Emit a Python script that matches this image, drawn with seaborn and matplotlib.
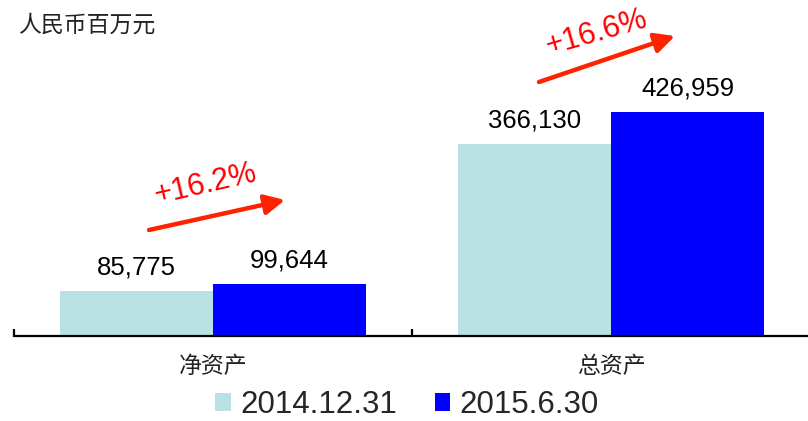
import matplotlib
matplotlib.use("Agg")
import matplotlib.pyplot as plt
from matplotlib.patches import Patch
import seaborn as sns
import pandas as pd

# data
categories = ["净资产", "总资产"]
periods = ["2014.12.31", "2015.6.30"]
values_2014 = [85775, 366130]
values_2015 = [99644, 426959]
growth_labels = ["+16.2%", "+16.6%"]
unit_label = "人民币百万元"

colors = ["#B9E0E3", "#0000FF"]

sns.set_theme(style="white")
plt.rcParams["font.family"] = ["Liberation Sans", "Noto Sans CJK SC", "DejaVu Sans"]
cjk = ["Noto Sans CJK SC", "DejaVu Sans"]

df = pd.DataFrame({
    "category": categories * 2,
    "period": [periods[0]] * 2 + [periods[1]] * 2,
    "value": values_2014 + values_2015,
})

fig = plt.figure(figsize=(8.08, 4.21), dpi=100)
ax = fig.add_axes([14 / 808, 85 / 421, 796 / 808, 336 / 421])

sns.barplot(data=df, x="category", y="value", hue="period", order=categories,
            hue_order=periods, palette=colors, width=0.77, gap=0,
            saturation=1, edgecolor="none", ax=ax, legend=False)

ax.set_xlim(-0.5, 1.5)
ax.set_ylim(0, 640000)
ax.set_xlabel("")
ax.set_ylabel("")
ax.set_yticks([])
for s in ["top", "right", "left"]:
    ax.spines[s].set_visible(False)
ax.spines["bottom"].set_color("black")
ax.spines["bottom"].set_linewidth(1.6)

# category labels at centres, ticks at boundaries
ax.set_xticks(range(len(categories)))
ax.set_xticklabels(categories, family=cjk, fontsize=16.5, color="#222222")
ax.tick_params(axis="x", which="major", length=0, pad=14)
ax.set_xticks([-0.5, 0.5, 1.5], minor=True)
ax.tick_params(axis="x", which="minor", direction="in", length=5, width=1.6,
               color="black", bottom=True)

# value labels
for cont in ax.containers:
    for bar in cont:
        h = bar.get_height()
        ax.annotate(f"{h:,.0f}", (bar.get_x() + bar.get_width() / 2, h),
                    xytext=(0, 17), textcoords="offset points",
                    ha="center", va="center", fontsize=18.5, color="black")

# growth arrows (figure pixel positions)
arrows = [((149, 230), (285, 200)), ((539, 82), (675, 36))]
text_pos = [((206, 184), 13), ((597, 33), 16)]
for (start, end), ((tx, ty), rot), lab in zip(arrows, text_pos, growth_labels):
    ax.annotate("", xy=(end[0] / 808, 1 - end[1] / 421),
                xytext=(start[0] / 808, 1 - start[1] / 421),
                xycoords="figure fraction", textcoords="figure fraction",
                arrowprops=dict(arrowstyle="-|>,head_length=1.0,head_width=0.5",
                                color="#FF2200", lw=3.2, shrinkA=0, shrinkB=0))
    fig.text(tx / 808, 1 - ty / 421, lab, color="#FF0000", fontsize=22,
             rotation=rot, ha="center", va="center", rotation_mode="anchor")

fig.text(18 / 808, 1 - 25 / 421, unit_label, family=cjk, fontsize=16.5,
         ha="left", va="center", color="#222222")

handles = [Patch(facecolor=c, edgecolor="none") for c in colors]
fig.legend(handles, periods, loc="center", bbox_to_anchor=(407 / 808, 16 / 421),
           ncol=2, frameon=False, fontsize=22.5, handlelength=0.5,
           handleheight=0.5, handletextpad=0.3, columnspacing=1.2,
           borderpad=0, borderaxespad=0)

fig.savefig("out.png", dpi=100, facecolor="white")
